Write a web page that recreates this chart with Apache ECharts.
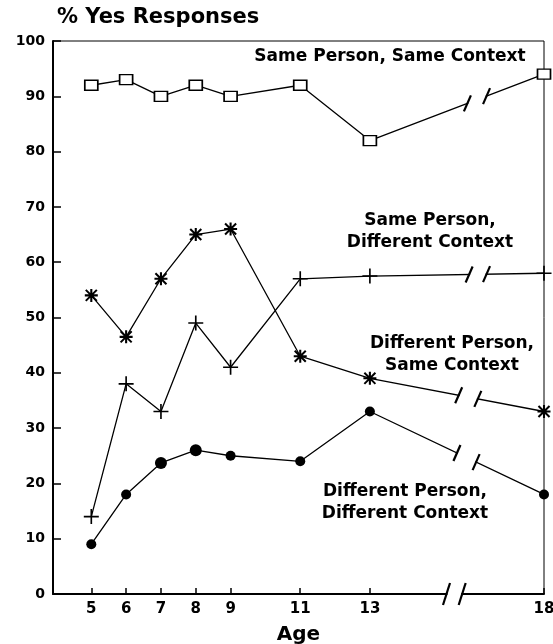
<!DOCTYPE html>
<html><head><meta charset="utf-8">
<script src="https://cdn.jsdelivr.net/npm/echarts@6/dist/echarts.min.js"></script>
<style>html,body{margin:0;padding:0;background:#fff}#c{width:553px;height:644px}</style>
</head><body><div id="c"></div>
<script>
const ages = [5, 6, 7, 8, 9, 11, 13, 18];
const yTicks = [0, 10, 20, 30, 40, 50, 60, 70, 80, 90, 100];
const samePersonSameContext = [92, 93, 90, 92, 90, 92, 82, 94];
const samePersonDiffContext = [14, 38, 33, 49, 41, 57, 57.5, 58];
const diffPersonSameContext = [54, 46.5, 57, 65, 66, 43, 39, 33];
const diffPersonDiffContext = [9, 18, 23.7, 26, 25, 24, 33, 18];
// break mark positions (age units) between 13 and 18, per series
const breakSPSC = [15.8, 16.35];
const breakSPDC = [15.85, 16.35];
const breakDPSC = [15.55, 16.1];
const breakDPDC = [15.5, 16.05];
const breakAxis = [15.2, 15.65];

const FONT = 'DejaVu Sans';
function pairs(vals){ return ages.map((a,i)=>[a, vals[i]]); }
function interp(vals, x){
  const i = ages.indexOf(13), j = ages.indexOf(18);
  return vals[i] + (vals[j]-vals[i])*(x-13)/(18-13);
}
const breakData = [];
[[samePersonSameContext, breakSPSC],[samePersonDiffContext, breakSPDC],
 [diffPersonSameContext, breakDPSC],[diffPersonDiffContext, breakDPDC]].forEach(([v,b])=>{
  breakData.push([b[0], interp(v,b[0]), b[1], interp(v,b[1]), 0]);
});
breakData.push([breakAxis[0], 0, breakAxis[1], 0, 1]);

const lineBase = {type:'line', lineStyle:{color:'#000', width:1.3}, z:3, animation:false};
const asterisk = 'path://M4.2 0h1.6v10h-1.6z M0 4.2h10v1.6h-10z M1.3 0.2L9.8 8.7L8.7 9.8L0.2 1.3z M8.7 0.2L9.8 1.3L1.3 9.8L0.2 8.7z';
const plus = 'path://M4.45 0h1.1v10h-1.1z M0 4.45h10v1.1h-10z';
const annFont = 'bold 17px "DejaVu Sans"';

const chart = echarts.init(document.getElementById('c'));
chart.setOption({
  animation:false,
  backgroundColor:'#fff',
  title:{text:'% Yes Responses', left:52, top:2, textStyle:{fontFamily:FONT, fontWeight:'bold', fontSize:21, color:'#000'}},
  grid:{left:53, right:9, top:41, bottom:50, show:true, borderColor:'#000', borderWidth:1,
    containLabel:false, outerBoundsMode:'none'},
  xAxis:{type:'value', min:3.9, max:18,
    name:'Age', nameLocation:'middle', nameGap:31,
    nameTextStyle:{fontFamily:FONT, fontWeight:'bold', fontSize:20, color:'#000'},
    axisLine:{show:true, lineStyle:{color:'#000', width:2}},
    axisTick:{show:true, inside:true, length:6, customValues:ages, lineStyle:{color:'#000', width:1.5}},
    axisLabel:{customValues:ages, margin:8, fontFamily:FONT, fontWeight:'bold', fontSize:15, color:'#000'},
    splitLine:{show:false}},
  yAxis:{type:'value', min:0, max:100, interval:10,
    axisLine:{show:true, lineStyle:{color:'#000', width:2}},
    axisTick:{show:true, inside:true, length:8, lineStyle:{color:'#000', width:1.5}},
    axisLabel:{margin:8, fontFamily:FONT, fontWeight:'bold', fontSize:14, color:'#000',
      formatter:v=> yTicks.includes(v) ? String(v) : ''},
    splitLine:{show:false}},
  series:[
    Object.assign({}, lineBase, {name:'Same Person, Same Context', data:pairs(samePersonSameContext),
      symbol:'rect', symbolSize:[13,10], itemStyle:{color:'#fff', borderColor:'#000', borderWidth:1.5}}),
    Object.assign({}, lineBase, {name:'Same Person, Different Context', data:pairs(samePersonDiffContext),
      symbol:plus, symbolSize:15, itemStyle:{color:'#000'}}),
    Object.assign({}, lineBase, {name:'Different Person, Same Context', data:pairs(diffPersonSameContext),
      symbol:asterisk, symbolSize:13, itemStyle:{color:'#000'}}),
    Object.assign({}, lineBase, {name:'Different Person, Different Context', data:pairs(diffPersonDiffContext),
      symbol:'circle', symbolSize:(v, p)=> (p.dataIndex===2 || p.dataIndex===3) ? 12 : 10, itemStyle:{color:'#000'}}),
    {type:'custom', z:10, clip:false, animation:false, silent:true,
      data:breakData,
      renderItem:function(params, api){
        const p1 = api.coord([api.value(0), api.value(1)]);
        const p2 = api.coord([api.value(2), api.value(3)]);
        const isAxis = api.value(4) === 1;
        const h = isAxis ? 11 : 8;
        const children = [
          {type:'line', shape:{x1:p1[0]+1, y1:p1[1], x2:p2[0]-1, y2:p2[1]}, style:{stroke:'#fff', lineWidth:isAxis?5:4}},
        ];
        [p1,p2].forEach(p=>{
          children.push({type:'line', shape:{x1:p[0]-3.5, y1:p[1]+h, x2:p[0]+3.5, y2:p[1]-h}, style:{stroke:'#000', lineWidth:2.2}});
        });
        return {type:'group', children:children};
      }}
  ],
  graphic:[
    {type:'text', x:390, y:57, style:{text:'Same Person, Same Context', align:'center', verticalAlign:'middle', font:annFont, fill:'#000'}},
    {type:'text', x:430, y:232, style:{text:'Same Person,\nDifferent Context', align:'center', verticalAlign:'middle', lineHeight:22, font:annFont, fill:'#000'}},
    {type:'text', x:452, y:355, style:{text:'Different Person,\nSame Context', align:'center', verticalAlign:'middle', lineHeight:22, font:annFont, fill:'#000'}},
    {type:'text', x:405, y:503, style:{text:'Different Person,\nDifferent Context', align:'center', verticalAlign:'middle', lineHeight:22, font:annFont, fill:'#000'}}
  ]
});
</script></body></html>
